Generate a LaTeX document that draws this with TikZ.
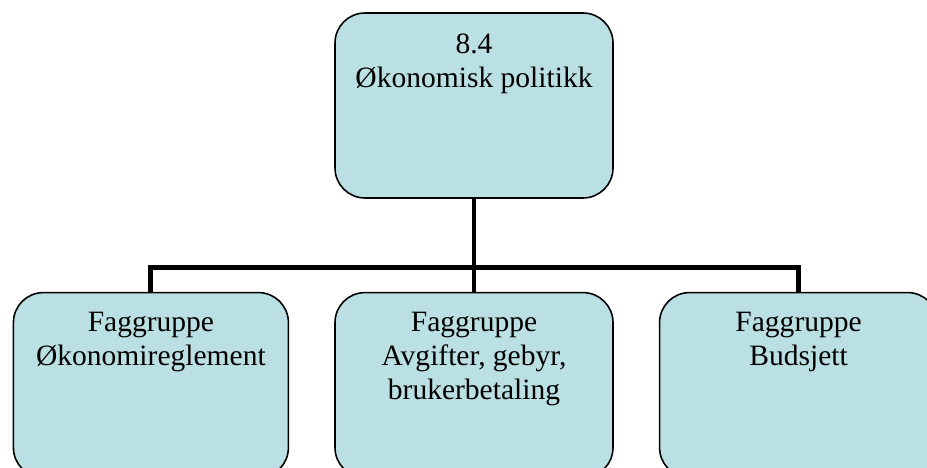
\documentclass[tikz,border=0pt]{standalone}
\usepackage{fontspec}
\setmainfont{Liberation Serif}
\usepackage{xcolor}
\usepackage{tikz}
\usetikzlibrary{positioning}

\definecolor{boxfill}{RGB}{187,224,227}

\begin{document}
\begin{tikzpicture}[
    box/.style={rectangle, draw, line width=0.9pt, fill=boxfill, rounded corners=0.6cm, minimum width=5.56cm, minimum height=3.7cm},
    boxtext/.style={align=center, inner sep=0pt, font=\fontsize{16.8}{19.4}\selectfont},
    conn/.style={line width=2.8pt}
]
\useasboundingbox (0,0) rectangle (18.54,-9.36);
\clip (0,0) rectangle (18.54,-9.36);

% Boxes
\node[box] (top) at (9.48,-2.11) {};
\node[box, below=1.86cm of top] (mid) {};
\node[box, left=0.9cm of mid, minimum width=5.5cm] (left) {};
\node[box, right=0.9cm of mid] (right) {};

% Texts
\node[boxtext, below=0.42cm of top.north] (toptext) {8.4\\Økonomisk politikk};
\node[boxtext, below=0.4cm of left.north] (lefttext) {Faggruppe\\Økonomireglement};
\node[boxtext, below=0.4cm of mid.north] (midtext) {Faggruppe\\Avgifter, gebyr,\\brukerbetaling};
\node[boxtext, below=0.4cm of right.north] (righttext) {Faggruppe\\Budsjett};

% Connectors
\coordinate (bus) at ([yshift=-1.38cm]top.south);
\draw[conn] (top.south) -- (bus);
\draw[conn] (left.north) |- (bus);
\draw[conn] (right.north) |- (bus);
\draw[conn] (mid.north) -- (mid.north |- bus);

\end{tikzpicture}
\end{document}
